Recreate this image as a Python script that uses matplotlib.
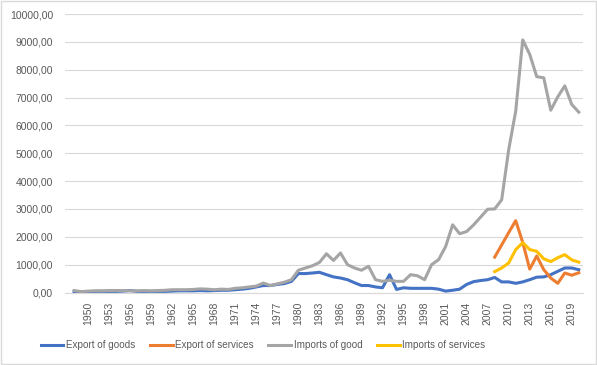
import numpy as np
import matplotlib
matplotlib.use("Agg")
import matplotlib.pyplot as plt
from matplotlib.patches import Rectangle
from matplotlib.ticker import FuncFormatter

years = list(range(1948, 2021))
export_goods = [30, 20, 30, 40, 40, 40, 40, 50, 70, 40,
                40, 40, 40, 40, 50, 60, 60, 60, 70, 60,
                70, 80, 80, 100, 120, 150, 200, 250, 250, 290,
                320, 400, 680, 680, 700, 725, 640, 560, 520, 460,
                350, 250, 250, 200, 170, 640, 110, 170, 150, 150,
                150, 150, 120, 50, 80, 120, 290, 390, 430, 460,
                540, 380, 380, 330, 380, 460, 550, 560, 640, 760,
                880, 880, 820]
imports_goods = [70, 30, 50, 60, 60, 70, 70, 70, 60, 60,
                 70, 60, 70, 80, 100, 100, 100, 110, 130, 120,
                 100, 120, 110, 150, 170, 200, 230, 340, 250, 310,
                 370, 460, 800, 880, 960, 1080, 1390, 1150, 1420, 1000,
                 880, 800, 940, 460, 400, 440, 400, 400, 640, 600,
                 460, 1000, 1180, 1650, 2430, 2110, 2190, 2430, 2710, 2990,
                 3000, 3330, 5130, 6510, 9070, 8550, 7750, 7710, 6545, 7025,
                 7420, 6750, 6475]

service_years = list(range(2008, 2021))
export_services = [1270, 1710, 2150, 2580, 1800, 840, 1310, 820, 520, 330, 700, 620, 710]
imports_services = [750, 880, 1060, 1540, 1790, 1540, 1480, 1210, 1110, 1250, 1360, 1170, 1090]

tick_years = list(range(1950, 2020, 3))

plt.rcParams['font.family'] = ['Liberation Sans', 'DejaVu Sans']
txt = '#595959'
grid = '#D9D9D9'

fig = plt.figure(figsize=(5.97, 3.65), dpi=100)
ax = fig.add_axes([65/597, 1 - 292.5/365, 518/597, (292.5 - 14)/365])

ax.plot(years, export_goods, color='#4472C4', lw=2.2, label='Export of goods', solid_joinstyle='round')
ax.plot(service_years, export_services, color='#ED7D31', lw=2.2, label='Export of services', solid_joinstyle='round')
ax.plot(years, imports_goods, color='#A5A5A5', lw=2.2, label='Imports of good', solid_joinstyle='round')
ax.plot(service_years, imports_services, color='#FFC000', lw=2.2, label='Imports of services', solid_joinstyle='round')

ax.set_xlim(1946.7, 2020.6)
ax.set_ylim(0, 10000)
ax.set_yticks(np.arange(0, 10001, 1000))
ax.yaxis.set_major_formatter(FuncFormatter(lambda v, p: f"{v:.2f}".replace('.', ',')))
ax.set_xticks(tick_years)
ax.set_xticklabels([str(y) for y in tick_years], rotation=90)
ax.tick_params(axis='both', length=0, labelsize=7.5, labelcolor=txt)
ax.tick_params(axis='y', pad=8.5)
ax.tick_params(axis='x', pad=6.5)
ax.grid(axis='y', color=grid, lw=0.8)
ax.set_axisbelow(True)
for s in ['top', 'right', 'left']:
    ax.spines[s].set_visible(False)
ax.spines['bottom'].set_color(grid)
ax.spines['bottom'].set_linewidth(0.8)

leg = fig.legend(loc='center', bbox_to_anchor=(263/597, 1 - 345/365), ncol=4, frameon=False,
                 fontsize=7.1, handlelength=2.3, handletextpad=0.25, columnspacing=1.5)
for t in leg.get_texts():
    t.set_color(txt)

fig.patches.append(Rectangle((0.001, 0.002), 0.997, 0.995, transform=fig.transFigure,
                             fill=False, edgecolor=grid, lw=1))

fig.savefig('out.png', dpi=100)
